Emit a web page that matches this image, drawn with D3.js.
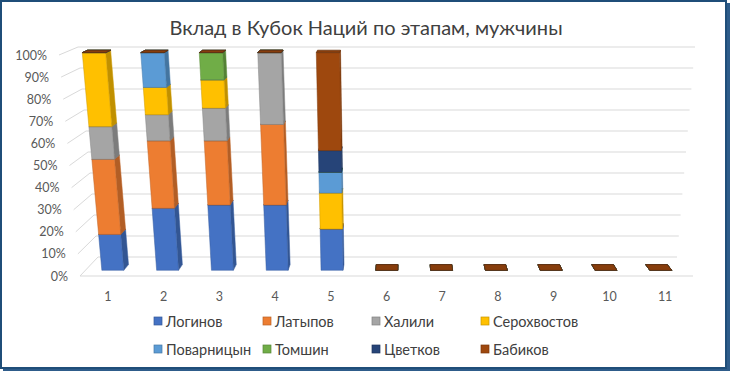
<!DOCTYPE html>
<html><head><meta charset="utf-8">
<script src="https://cdn.jsdelivr.net/npm/d3@7"></script>
<style>body{margin:0;background:#fff}svg{display:block}</style>
</head><body>
<svg id="chart" width="730" height="371"></svg>
<script>
const categories = ['1','2','3','4','5','6','7','8','9','10','11'];
const seriesNames = ['Логинов','Латыпов','Халили','Серохвостов','Поварницын','Томшин','Цветков','Бабиков'];
const seriesColors = ['#4472C4','#ED7D31','#A5A5A5','#FFC000','#5B9BD5','#70AD47','#264478','#9E480E'];
const loginov      = [16.5, 28.5, 30,   30, 19,   0,0,0,0,0,0];
const latypov      = [34.5, 31,   29.5, 37, 0,    0,0,0,0,0,0];
const khalili      = [15,   12,   15,   33, 0,    0,0,0,0,0,0];
const serokhvostov = [34,   12.5, 13,   0,  16.5, 0,0,0,0,0,0];
const povarnitsyn  = [0,    16,   0,    0,  9.5,  0,0,0,0,0,0];
const tomshin      = [0,    0,    12.5, 0,  0,    0,0,0,0,0,0];
const tsvetkov     = [0,    0,    0,    0,  10,   0,0,0,0,0,0];
const babikov      = [0,    0,    0,    0,  45,   0,0,0,0,0,0];
const yTicks = [0,10,20,30,40,50,60,70,80,90,100];
const title = 'Вклад в Кубок Наций по этапам, мужчины';

const seriesValues = [loginov, latypov, khalili, serokhvostov, povarnitsyn, tomshin, tsvetkov, babikov];
const rows = categories.map((c, i) => {
  const r = {cat: c};
  seriesNames.forEach((s, k) => r[s] = seriesValues[k][i]);
  return r;
});
const stacked = d3.stack().keys(seriesNames).offset(d3.stackOffsetExpand)(rows);

const svg = d3.select('#chart');
const FONT = 'Lato, "Open Sans", sans-serif';

// frame
svg.append('rect').attr('x',0).attr('y',0).attr('width',730).attr('height',371).attr('fill','#fff');
svg.append('rect').attr('x',726).attr('y',3).attr('width',4).attr('height',368).attr('fill','#2E5C8A');
svg.append('rect').attr('x',3).attr('y',368).attr('width',727).attr('height',3).attr('fill','#2E5C8A');
svg.append('rect').attr('x',1).attr('y',1).attr('width',725).attr('height',367)
  .attr('fill','none').attr('stroke','#1F4E79').attr('stroke-width',2);

// perspective cube corners (screen), trilinear projection
const C = {
  fbl:[80,276], fbr:[693,276], bbl:[98,257], bbr:[677,257],
  ftl:[59,55],  ftr:[714,55],  btl:[78,47],  btr:[695,47]
};
const lerp = (a,b,t) => [a[0]+(b[0]-a[0])*t, a[1]+(b[1]-a[1])*t];
function P(X, Y, Z) {
  const fb = lerp(C.fbl, C.fbr, X), bb = lerp(C.bbl, C.bbr, X);
  const ft = lerp(C.ftl, C.ftr, X), bt = lerp(C.btl, C.btr, X);
  const b = lerp(fb, bb, Z), t = lerp(ft, bt, Z);
  return lerp(b, t, Y);
}
const x = d3.scaleBand().domain(categories).range([0,1]).paddingInner(0.6).paddingOuter(0.3);
const y = d3.scaleLinear().domain([0,100]).range([0,1]);
const zFront = 0.3, zBack = 0.6;

const grid = svg.append('g').attr('stroke','#D9D9D9').attr('stroke-width',1).attr('fill','none');
const line = d3.line();
yTicks.forEach(t => {
  const Y = y(t);
  grid.append('path').attr('d', line([P(0,Y,0), P(0,Y,1), P(1,Y,1)]));
});
grid.append('path').attr('d', line([P(0,0,0), P(1,0,0)]));

// y labels
svg.append('g').selectAll('text').data(yTicks).join('text')
  .attr('x', d => P(0,y(d),0)[0] - 12)
  .attr('y', d => P(0,y(d),0)[1])
  .attr('text-anchor','end').attr('dominant-baseline','central')
  .attr('font-family',FONT).attr('font-size',12.5).attr('fill','#595959')
  .text(d => d + '%');

// x labels
svg.append('g').selectAll('text').data(categories).join('text')
  .attr('x', d => P(x(d) + x.bandwidth()/2, 0, 0)[0])
  .attr('y', 296)
  .attr('text-anchor','middle').attr('dominant-baseline','central')
  .attr('font-family',FONT).attr('font-size',12.5).attr('fill','#595959')
  .text(d => d);

// bars
const bars = svg.append('g');
const poly = pts => 'M' + pts.map(p => p[0].toFixed(2)+','+p[1].toFixed(2)).join('L') + 'Z';
categories.forEach((cat, i) => {
  const x0 = x(cat), x1 = x0 + x.bandwidth();
  const rightVisible = P(x1,0,zBack)[0] > P(x1,0,zFront)[0];
  stacked.forEach((s, k) => {
    const Y0 = s[i][0], Y1 = s[i][1];
    const base = d3.color(seriesColors[k]);
    const edge = base.darker(0.6).formatHex();
    if (Y1 > Y0) {
      const sx = rightVisible ? x1 : x0;
      bars.append('path').attr('d', poly([P(sx,Y0,zFront),P(sx,Y0,zBack),P(sx,Y1,zBack),P(sx,Y1,zFront)]))
        .attr('fill', base.darker(0.8).formatHex()).attr('stroke', edge).attr('stroke-width',0.5);
      bars.append('path').attr('d', poly([P(x0,Y0,zFront),P(x1,Y0,zFront),P(x1,Y1,zFront),P(x0,Y1,zFront)]))
        .attr('fill', base.formatHex()).attr('stroke', edge).attr('stroke-width',0.5);
    }
    bars.append('path').attr('d', poly([P(x0,Y1,zFront),P(x1,Y1,zFront),P(x1,Y1,zBack),P(x0,Y1,zBack)]))
      .attr('fill', base.darker(0.45).formatHex()).attr('stroke', base.darker(1.2).formatHex()).attr('stroke-width',0.7);
  });
});

// title
svg.append('text').attr('x',366).attr('y',27)
  .attr('text-anchor','middle').attr('dominant-baseline','central')
  .attr('font-family',FONT).attr('font-size',20).attr('fill','#404040')
  .text(title);

// legend
const legCols = [154, 263, 372, 481];
const legRows = [321, 349];
const leg = svg.append('g');
seriesNames.forEach((name, k) => {
  const cx = legCols[k % 4], cy = legRows[Math.floor(k / 4)];
  leg.append('rect').attr('x', cx).attr('y', cy - 4).attr('width', 8).attr('height', 8)
    .attr('fill', seriesColors[k]).attr('stroke', d3.color(seriesColors[k]).darker(0.7).formatHex()).attr('stroke-width',0.7);
  leg.append('text').attr('x', cx + 12).attr('y', cy)
    .attr('dominant-baseline','central')
    .attr('font-family',FONT).attr('font-size',14.5).attr('fill','#404040')
    .text(name);
});
</script>
</body></html>
